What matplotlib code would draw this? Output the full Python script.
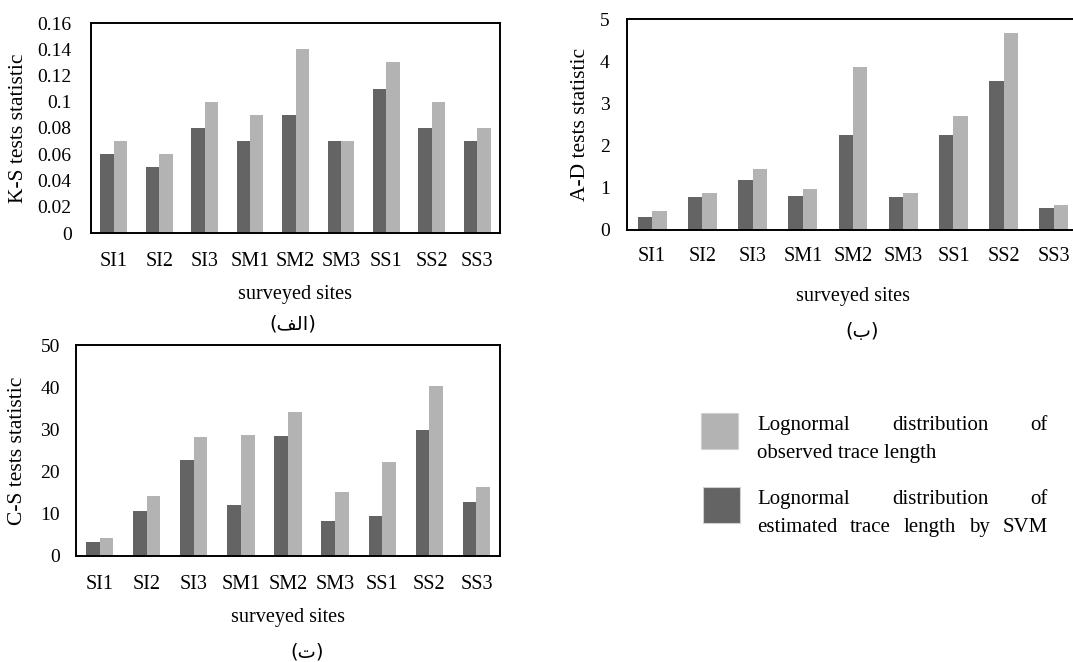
import matplotlib
matplotlib.use('Agg')
import matplotlib.pyplot as plt
from matplotlib.patches import Rectangle
from matplotlib.ticker import FormatStrFormatter
import numpy as np

plt.rcParams['font.family'] = ['Liberation Serif', 'DejaVu Sans']

# Data
sites = ['SI1', 'SI2', 'SI3', 'SM1', 'SM2', 'SM3', 'SS1', 'SS2', 'SS3']

ks_svm = [0.06, 0.05, 0.08, 0.07, 0.09, 0.07, 0.11, 0.08, 0.07]
ks_obs = [0.07, 0.06, 0.10, 0.09, 0.14, 0.07, 0.13, 0.10, 0.08]

ad_svm = [0.30, 0.78, 1.19, 0.81, 2.25, 0.78, 2.25, 3.52, 0.51]
ad_obs = [0.46, 0.88, 1.44, 0.97, 3.86, 0.88, 2.70, 4.66, 0.60]

cs_svm = [3.4, 10.6, 22.7, 12.1, 28.4, 8.4, 9.5, 29.8, 12.8]
cs_obs = [4.3, 14.3, 28.2, 28.6, 34.1, 15.2, 22.2, 40.2, 16.4]

dark = '#646464'
light = '#b3b3b3'

W, H = 1073, 662
fig = plt.figure(figsize=(W / 100, H / 100), dpi=100)


def rect(x0, y_top, x1, y_bot):
    return [x0 / W, 1 - y_bot / H, (x1 - x0) / W, (y_bot - y_top) / H]


def panel(r, svm, obs, ylim, step, ylabel, ylab_x, xlab_y, pad_x, pad_y, bw):
    ax = fig.add_axes(r)
    x = np.arange(len(sites))
    ax.bar(x - bw / 2, svm, bw, color=dark)
    ax.bar(x + bw / 2, obs, bw, color=light)
    ax.set_xlim(-0.5, len(sites) - 0.5)
    ax.set_ylim(0, ylim)
    ax.set_yticks(np.arange(0, ylim + step / 2, step))
    ax.yaxis.set_major_formatter(FormatStrFormatter('%g'))
    ax.set_xticks(x)
    ax.set_xticklabels(sites)
    ax.tick_params(axis='both', length=0)
    ax.tick_params(axis='y', pad=pad_y, labelsize=14)
    ax.tick_params(axis='x', pad=pad_x, labelsize=14.5)
    for s in ax.spines.values():
        s.set_linewidth(1.4)
    ax.set_ylabel(ylabel, fontsize=15.5)
    ax.set_xlabel('surveyed sites', fontsize=14.5)
    ax.yaxis.set_label_coords(ylab_x, 0.5)
    ax.xaxis.set_label_coords(0.5, xlab_y)
    return ax


panel(rect(91, 23, 500, 233), ks_svm, ks_obs, 0.16, 0.02,
      'K-S tests statistic', -0.154, -0.25, 14, 14, 0.295)
panel(rect(627, 19, 1079, 230), ad_svm, ad_obs, 5, 1,
      'A-D tests statistic', -0.082, -0.27, 12, 12.5, 0.287)
panel(rect(76, 345, 500, 556), cs_svm, cs_obs, 50, 10,
      'C-S tests statistic', -0.116, -0.245, 14, 11.5, 0.29)

# panel captions (Arabic, pre-shaped glyphs)
cap = dict(fontsize=14, family=['DejaVu Sans'], ha='center', va='center')
fig.text(293 / W, 1 - 324 / H, '(\ufed2\ufedf\ufe8d)', **cap)
fig.text(862 / W, 1 - 331 / H, '(\u0628)', **cap)
fig.text(307 / W, 1 - 652 / H, '(\u062a)', **cap)

# legend drawn by hand (justified text)
fig.patches.append(Rectangle((701 / W, 1 - 449 / H), 37 / W, 36 / H,
                             transform=fig.transFigure, facecolor=light,
                             edgecolor='#d0d0d0', linewidth=0.8))
fig.patches.append(Rectangle((703 / W, 1 - 523 / H), 37 / W, 36 / H,
                             transform=fig.transFigure, facecolor=dark,
                             edgecolor='#d0d0d0', linewidth=0.8))


def justified(words, x0, x1, y):
    texts = [fig.text(x0 / W, 1 - y / H, w, fontsize=15, va='baseline')
             for w in words]
    fig.canvas.draw()
    r = fig.canvas.get_renderer()
    widths = [t.get_window_extent(r).width for t in texts]
    gap = (x1 - x0 - sum(widths)) / max(len(words) - 1, 1)
    xx = x0
    for t, w in zip(texts, widths):
        t.set_x(xx / W)
        xx += w + gap


justified(['Lognormal', 'distribution', 'of'], 757, 1048, 430)
fig.text(757 / W, 1 - 458 / H, 'observed trace length', fontsize=15, va='baseline')
justified(['Lognormal', 'distribution', 'of'], 757, 1048, 504)
justified(['estimated', 'trace', 'length', 'by', 'SVM'], 757, 1048, 532)

fig.savefig('out.png', dpi=100)
